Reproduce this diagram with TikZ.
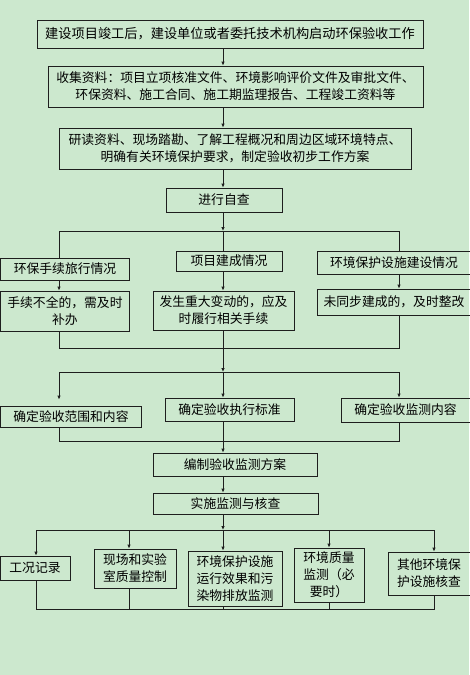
\documentclass[tikz,border=0pt]{standalone}
\usepackage{fontspec}
\newfontfamily\cjk{Noto Sans CJK SC}
\usetikzlibrary{arrows.meta, calc}
\definecolor{bgGreen}{RGB}{204,232,206}
\definecolor{lineGray}{RGB}{30,30,30}
\tikzstyle{procBox}=[draw=lineGray, line width=0.8pt, rectangle, inner sep=0pt, align=center, font=\cjk\fontsize{12.8}{17}\selectfont]
\tikzstyle{flowLine}=[draw=lineGray, line width=0.8pt]
\tikzstyle{flowArrow}=[draw=lineGray, line width=0.8pt, -{Latex[length=4pt,width=3.5pt]}]

\begin{document}
\begin{tikzpicture}[x=1pt, y=-1pt]
    \fill[bgGreen] (0,0) rectangle (469,675);
    \useasboundingbox (0,0) rectangle (469,675);

    % Main Steps
    \node[procBox, minimum width=386pt, minimum height=28pt] (start) at (230,34) {\fontsize{13.2}{17}\selectfont 建设项目竣工后，建设单位或者委托技术机构启动环保验收工作};
    \node[procBox, minimum width=375pt, minimum height=41pt] (collect) at (235.5,86.5) {收集资料：项目立项核准文件、环境影响评价文件及审批文件、\\环保资料、施工合同、施工期监理报告、工程竣工资料等};
    \node[procBox, minimum width=352pt, minimum height=41pt] (study) at (235,148.5) {研读资料、现场踏勘、了解工程概况和周边区域环境特点、\\明确有关环境保护要求，制定验收初步工作方案};
    \node[procBox, minimum width=116pt, minimum height=24pt] (selfCheck) at (224,200) {进行自查};

    % Self Check Nodes
    \node[procBox, minimum width=129pt, minimum height=22pt] (procA) at (65,269) {环保手续旅行情况};
    \node[procBox, minimum width=106pt, minimum height=20pt] (buildA) at (229,261) {项目建成情况};
    \node[procBox, minimum width=153pt, minimum height=23pt] (facA) at (394,262.5) {环境保护设施建设情况};
    \node[procBox, minimum width=129pt, minimum height=40pt] (procB) at (65,311) {手续不全的，需及时\\补办};
    \node[procBox, minimum width=141pt, minimum height=39pt] (buildB) at (223.5,310.5) {发生重大变动的，应及\\时履行相关手续};
    \node[procBox, minimum width=153pt, minimum height=26pt] (facB) at (394,302) {未同步建成的，及时整改};

    % Scheme Nodes
    \node[procBox, minimum width=141pt, minimum height=21pt] (scope) at (71,416.5) {确定验收范围和内容};
    \node[procBox, minimum width=129pt, minimum height=23pt] (standard) at (229.5,409.5) {确定验收执行标准};
    \node[procBox, minimum width=129pt, minimum height=24pt] (content) at (405.5,410) {确定验收监测内容};
    \node[procBox, minimum width=164pt, minimum height=23pt] (scheme) at (235,464.5) {编制验收监测方案};
    \node[procBox, minimum width=165pt, minimum height=21pt] (monitor) at (235.5,503.5) {实施监测与核查};

    % Monitoring Nodes
    \node[procBox, minimum width=70pt, minimum height=24pt] (record) at (35,568) {工况记录};
    \node[procBox, minimum width=82pt, minimum height=39pt] (quality) at (135,568.5) {现场和实验\\室质量控制};
    \node[procBox, minimum width=94pt, minimum height=55pt] (effect) at (235,578.5) {环境保护设施\\运行效果和污\\染物排放监测};
    \node[procBox, minimum width=70pt, minimum height=54pt] (envQ) at (329,575) {环境质量\\监测（必\\要时）};
    \node[procBox, minimum width=82pt, minimum height=43pt] (other) at (429,573.5) {其他环境保\\护设施核查};

    % Junctions
    \coordinate (splitA) at (223,231);
    \coordinate (splitAL) at (59,231);
    \coordinate (splitAR) at (399,231);
    \coordinate (mergeA) at (223,348);
    \coordinate (mergeAL) at (59,348);
    \coordinate (mergeAR) at (399,348);
    \coordinate (splitB) at (223,372);
    \coordinate (splitBL) at (59,372);
    \coordinate (splitBR) at (399,372);
    \coordinate (mergeB) at (223,441);
    \coordinate (mergeBL) at (59,441);
    \coordinate (mergeBR) at (399,441);
    \coordinate (splitC) at (223,530);
    \coordinate (splitCL) at (36,530);
    \coordinate (splitCR) at (434,530);
    \coordinate (mergeCL) at (36,609);
    \coordinate (mergeCR) at (434,609);

    % Main Arcs
    \draw[flowArrow] (start.south -| splitA) -- (collect.north -| splitA);
    \draw[flowArrow] (collect.south -| splitA) -- (study.north -| splitA);
    \draw[flowArrow] (study.south -| splitA) -- (selfCheck.north -| splitA);
    \draw[flowArrow] (selfCheck.south -| splitA) -- (splitA);

    % Self Check Arcs
    \draw[flowLine] (splitAL) -- (splitAR);
    \draw[flowLine] (splitAL) -- (procA.north -| splitAL);
    \draw[flowLine] (splitA) -- (buildA.north -| splitA);
    \draw[flowLine] (splitAR) -- (facA.north -| splitAR);
    \draw[flowArrow] (procA.south -| splitAL) -- (procB.north -| splitAL);
    \draw[flowArrow] (buildA.south -| splitA) -- (buildB.north -| splitA);
    \draw[flowArrow] (facA.south -| splitAR) -- (facB.north -| splitAR);
    \draw[flowLine] (procB.south -| mergeAL) -- (mergeAL) -- (mergeAR) -- (facB.south -| mergeAR);
    \draw[flowLine] (buildB.south -| mergeA) -- (mergeA);
    \draw[flowArrow] (mergeA) -- (splitB);

    % Scheme Arcs
    \draw[flowLine] (splitBL) -- (splitBR);
    \draw[flowArrow] (splitBL) -- ([yshift=6pt]scope.north -| splitBL);
    \draw[flowArrow] (splitB) -- (standard.north -| splitB);
    \draw[flowArrow] (splitBR) -- (content.north -| splitBR);
    \draw[flowLine] (scope.south -| mergeBL) -- (mergeBL) -- (mergeBR) -- (content.south -| mergeBR);
    \draw[flowLine] (standard.south -| mergeB) -- (mergeB);
    \draw[flowArrow] (mergeB) -- (scheme.north -| mergeB);
    \draw[flowArrow] (scheme.south -| mergeB) -- (monitor.north -| mergeB);
    \draw[flowArrow] (monitor.south -| splitC) -- (splitC);

    % Monitoring Arcs
    \draw[flowLine] (splitCL) -- (splitCR);
    \draw[flowArrow] (splitCL -| 129,0) -- (quality.north -| 129,0);
    \draw[flowArrow] (splitCL) -- (record.north -| splitCL);
    \draw[flowArrow] (splitC) -- (effect.north -| splitC);
    \draw[flowArrow] (splitCL -| 329,0) -- (envQ.north -| 329,0);
    \draw[flowArrow] (splitCR) -- (other.north -| splitCR);
    \draw[flowLine] (record.south -| mergeCL) -- (mergeCL) -- (mergeCR) -- (other.south -| mergeCR);
    \draw[flowLine] (quality.south -| 129,0) -- (mergeCL -| 129,0);
    \draw[flowLine] (effect.south -| splitC) -- (mergeCL -| splitC);
    \draw[flowLine] (envQ.south -| 329,0) -- (mergeCL -| 329,0);

\end{tikzpicture}
\end{document}
